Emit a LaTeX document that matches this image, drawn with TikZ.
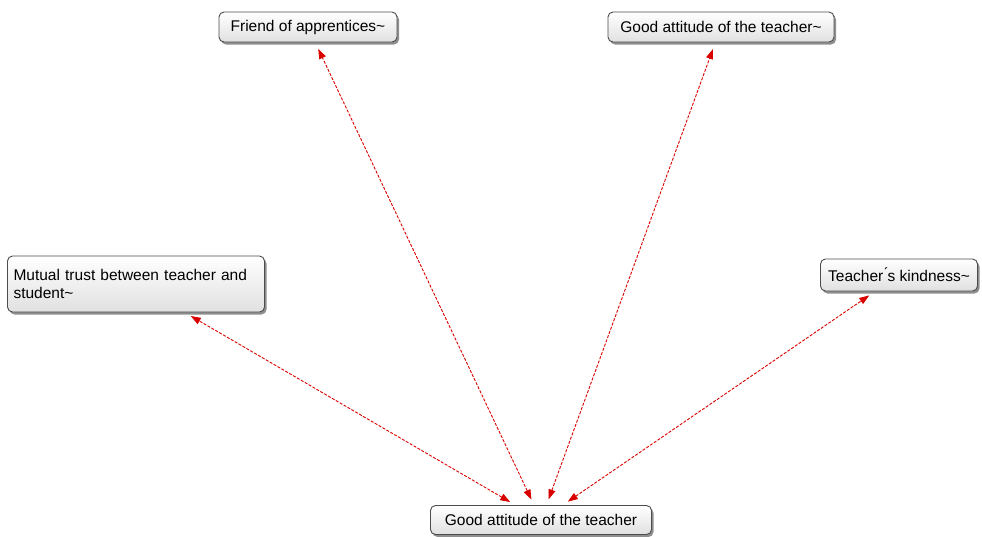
\documentclass[tikz,border=0pt]{standalone}
\usepackage{fontspec}
\setmainfont{Liberation Sans}
\usetikzlibrary{arrows.meta,shadows}
\begin{document}
\begin{tikzpicture}[x=1pt,y=-1pt,
  concept/.style={draw=black!70, line width=0.9pt, rounded corners=5pt,
    top color=white, bottom color=black!12,
    font=\fontsize{15.5}{18}\selectfont, inner sep=0pt,
    drop shadow={shadow xshift=2pt, shadow yshift=-2.5pt, fill=black!55, opacity=0.8}},
  link/.style={draw=red!85!black, line width=0.9pt, dash pattern=on 3pt off 1.5pt,
    {Triangle[length=10pt,width=7pt]}-{Triangle[length=10pt,width=7pt]},
    shorten <=6pt, shorten >=7pt}
]
\useasboundingbox (0,0) rectangle (982,536);

\node[concept, minimum width=178, minimum height=30] (friend) at (308,27) {Friend of apprentices\textasciitilde};
\node[concept, minimum width=226, minimum height=30] (goodtop) at (721,27) {Good attitude of the teacher\textasciitilde};
\node[concept, minimum width=257, minimum height=56, text width=245, align=left] (trust) at (136,284)
  {Mutual trust between teacher and student\textasciitilde};
\node[concept, minimum width=157, minimum height=32] (kind) at (899,275) {Teacher\'{ }s kindness\textasciitilde};
\node[concept, minimum width=221, minimum height=29] (good) at (541,520) {Good attitude of the teacher};

\draw[link] (good) -- (friend);
\draw[link] (good) -- (goodtop);
\draw[link] (good) -- (trust);
\draw[link] (good) -- (kind);
\end{tikzpicture}
\end{document}
